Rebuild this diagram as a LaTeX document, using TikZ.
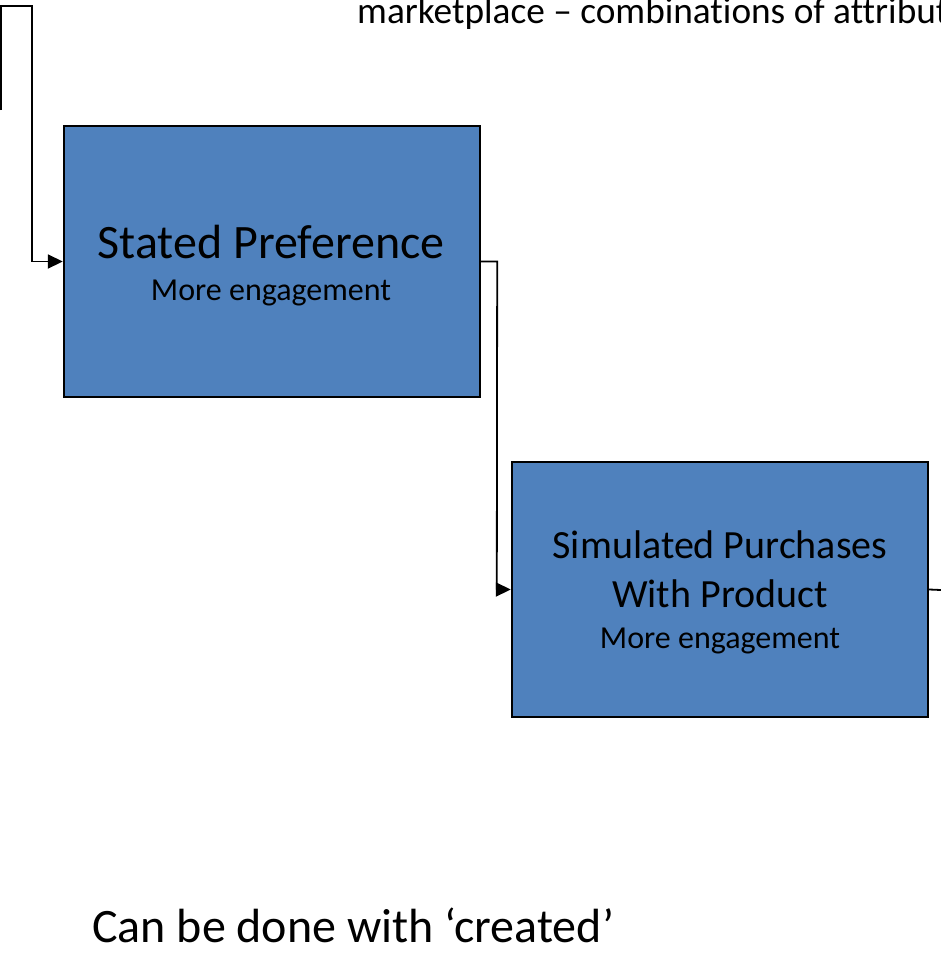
\documentclass[tikz,border=0pt]{standalone}
\usepackage{fontspec}
\setmainfont{Carlito}[Ligatures=NoCommon]
\usetikzlibrary{arrows.meta}
\definecolor{boxblue}{HTML}{4F81BD}
\tikzset{
  stagebox/.style={draw=black, line width=2.4pt, fill=boxblue, inner sep=0pt},
  conn/.style={draw=black, line width=1.8pt, -{Triangle[length=15pt,width=14pt]}},
  plainconn/.style={draw=black, line width=1.8pt},
  lbl/.style={anchor=base, inner sep=0pt, text=black},
}
\begin{document}
\begin{tikzpicture}[x=1pt, y=-1pt]
  \useasboundingbox (0,0) rectangle (941,962);
  \clip (0,0) rectangle (941,962);
  \fill[white] (0,0) rectangle (941,962);

  % stage boxes
  \node[stagebox, minimum width=416pt, minimum height=271pt] (b1) at (272,261.5) {};
  \node[stagebox, minimum width=416pt, minimum height=255pt] (b2) at (720,589.5) {};

  % box labels
  \node[lbl, font=\fontsize{48}{58}\selectfont] (t1) at (271,258) {Stated Preference};
  \node[lbl, font=\fontsize{32}{38}\selectfont] (t1s) at (271,300) {More engagement};
  \node[lbl, font=\fontsize{40}{48}\selectfont] (t2a) at (720,558) {Simulated Purchases};
  \node[lbl, font=\fontsize{40}{48}\selectfont] (t2b) at (720,607) {With Product};
  \node[lbl, font=\fontsize{32}{38}\selectfont] (t2s) at (720,648) {More engagement};

  % free texts
  \node[anchor=base west, inner sep=0pt, font=\fontsize{37.3}{45}\selectfont] (top) at (357,23) {marketplace – combinations of attribut};
  \node[anchor=base west, inner sep=0pt, font=\fontsize{48}{58}\selectfont] (note) at (92,942) {Can be done with ‘created’};

  % connectors
  \coordinate (in1) at (0.9,110);
  \coordinate (bend1) at (32,6);
  \coordinate (out2) at (941,590);
  \draw[conn] (in1) |- (bend1) |- (b1.west);
  \draw[conn] (b1.east) -- ++(16,0) -- ([xshift=-14pt]b2.west) -- (b2.west);
  \draw[plainconn] (b2.east) -- (out2);
\end{tikzpicture}
\end{document}
